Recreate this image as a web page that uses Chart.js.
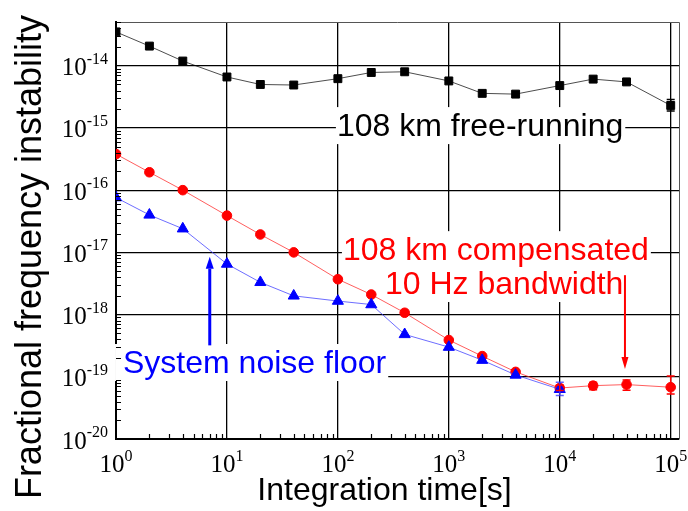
<!DOCTYPE html>
<html>
<head>
<meta charset="utf-8">
<script src="https://cdn.jsdelivr.net/npm/chart.js@4.4.1/dist/chart.umd.min.js"></script>
<style>
  html, body { margin: 0; padding: 0; background: #fff; }
  #wrap { width: 688px; height: 511px; }
</style>
</head>
<body>
<div id="wrap"><canvas id="stability" width="688" height="511"></canvas></div>
<script>
// integration time tau (s)
var tau = [1, 2, 4, 10, 20, 40, 100, 200, 400, 1000, 2000, 4000, 10000, 20000, 40000, 100000];

// 108 km free-running link
var freeRunning = [3.5e-14, 2.07e-14, 1.19e-14, 6.6e-15, 5.0e-15, 4.9e-15, 6.2e-15, 7.8e-15,
                   8.0e-15, 5.7e-15, 3.6e-15, 3.5e-15, 4.8e-15, 6.1e-15, 5.5e-15, 2.3e-15];
var freeRunningErrMinus = [0, 0, 0, 0, 0, 0, 0, 0, 0, 0, 0, 0, 0, 0, 0.4e-15, 0.43e-15];
var freeRunningErrPlus  = [0, 0, 0, 0, 0, 0, 0, 0, 0, 0, 0, 0, 0, 0, 0.5e-15, 0.58e-15];

// 108 km compensated, 10 Hz bandwidth
var compensated = [3.8e-16, 1.94e-16, 1.0e-16, 3.9e-17, 1.94e-17, 1.0e-17, 3.7e-18, 2.1e-18,
                   1.07e-18, 3.9e-19, 2.15e-19, 1.2e-19, 6.6e-20, 7.2e-20, 7.5e-20, 6.8e-20];
var compensatedErrMinus = [0, 0, 0, 0, 0, 0, 0, 0, 0, 0, 0, 0, 0.6e-20, 1.0e-20, 1.4e-20, 1.5e-20];
var compensatedErrPlus  = [0, 0, 0, 0, 0, 0, 0, 0, 0, 0, 0, 0, 0.8e-20, 1.0e-20, 1.4e-20, 3.5e-20];

// system noise floor (13 points, up to 1e4 s)
var noiseFloor = [7.6e-17, 4.0e-17, 2.4e-17, 6.5e-18, 3.3e-18, 2.0e-18, 1.65e-18, 1.45e-18,
                  4.8e-19, 3.0e-19, 1.85e-19, 1.07e-19, 6.3e-20];
var noiseFloorErrMinus = [0, 0, 0, 0, 0, 0, 0, 0, 0, 0, 0, 0, 1.3e-20];
var noiseFloorErrPlus  = [0, 0, 0, 0, 0, 0, 0, 0, 0, 0, 0, 0, 1.9e-20];

// decade exponents used for tick labels / grid
var xTickExps = [0, 1, 2, 3, 4, 5];
var yTickExps = [-20, -19, -18, -17, -16, -15, -14];

var xTitle = 'Integration time[s]';
var yTitle = 'Fractional frequency instability';

// text labels and arrows placed in data coordinates
var notes = [
  { text: '108 km free-running', x: 98, y: 7.4e-16, color: '#000000' },
  { text: '108 km compensated', x: 111, y: 7.5e-18, color: '#ff0000' },
  { text: '10 Hz bandwidth', x: 266, y: 2.14e-18, color: '#ff0000' },
  { text: 'System noise floor', x: 1.157, y: 1.15e-19, color: '#0000ff', padLeft: 8 }
];
var arrows = [
  { x: 7, from: 3.2e-19, to: 8.5e-18, color: '#0000ff', width: 3, head: 8 },
  { x: 3.87e4, from: 4.3e-18, to: 1.33e-19, color: '#ff0000', width: 2, head: 7 }
];

var SANS = '"Liberation Sans", Arial, sans-serif';
var SERIF = '"Liberation Serif", "Times New Roman", serif';

function pts(vals) {
  return vals.map(function(v, i) { return { x: tau[i], y: v }; });
}

// white-backed labels + arrows, under the data but over the grid
var notesPlugin = {
  id: 'notes',
  beforeDatasetsDraw: function(chart) {
    var ctx = chart.ctx, xs = chart.scales.x, ys = chart.scales.y;
    ctx.save();
    ctx.font = '32px ' + SANS;
    ctx.textBaseline = 'alphabetic';
    notes.forEach(function(n) {
      var px = xs.getPixelForValue(n.x), py = ys.getPixelForValue(n.y);
      var w = ctx.measureText(n.text).width;
      var pl = n.padLeft || 1;
      ctx.fillStyle = '#fff';
      ctx.fillRect(px - pl, py - 29, w + pl + 2, 37);
    });
    notes.forEach(function(n) {
      var px = xs.getPixelForValue(n.x), py = ys.getPixelForValue(n.y);
      ctx.fillStyle = n.color;
      ctx.fillText(n.text, px, py);
    });
    arrows.forEach(function(a) {
      var px = xs.getPixelForValue(a.x);
      var y0 = ys.getPixelForValue(a.from), y1 = ys.getPixelForValue(a.to);
      var dir = y1 > y0 ? 1 : -1, hl = 12;
      ctx.strokeStyle = a.color;
      ctx.fillStyle = a.color;
      ctx.lineWidth = a.width;
      ctx.beginPath();
      ctx.moveTo(px, y0);
      ctx.lineTo(px, y1 - dir * hl);
      ctx.stroke();
      ctx.beginPath();
      ctx.moveTo(px, y1);
      ctx.lineTo(px - a.head / 2, y1 - dir * hl);
      ctx.lineTo(px + a.head / 2, y1 - dir * hl);
      ctx.closePath();
      ctx.fill();
    });
    ctx.restore();
  }
};

var errSets = [
  { minus: noiseFloorErrMinus, plus: noiseFloorErrPlus, vals: noiseFloor, color: 'rgba(60,60,255,0.8)' },
  { minus: compensatedErrMinus, plus: compensatedErrPlus, vals: compensated, color: '#ff0000' },
  { minus: freeRunningErrMinus, plus: freeRunningErrPlus, vals: freeRunning, color: '#000000' }
];

var errorBars = {
  id: 'errorBars',
  afterDatasetsDraw: function(chart) {
    var ctx = chart.ctx, xs = chart.scales.x, ys = chart.scales.y;
    ctx.save();
    ctx.lineWidth = 1.5;
    errSets.forEach(function(s) {
      ctx.strokeStyle = s.color;
      s.vals.forEach(function(v, i) {
        if (!s.minus[i] && !s.plus[i]) return;
        var px = xs.getPixelForValue(tau[i]);
        var top = ys.getPixelForValue(v + s.plus[i]);
        var bot = ys.getPixelForValue(v - s.minus[i]);
        ctx.beginPath();
        ctx.moveTo(px, top); ctx.lineTo(px, bot);
        ctx.moveTo(px - 4, top); ctx.lineTo(px + 4, top);
        ctx.moveTo(px - 4, bot); ctx.lineTo(px + 4, bot);
        ctx.stroke();
      });
    });
    ctx.restore();
  }
};

function drawPower(ctx, exp, x, base, align) {
  ctx.font = '25px ' + SERIF;
  var w10 = ctx.measureText('10').width;
  ctx.font = '16px ' + SERIF;
  var we = ctx.measureText(String(exp)).width;
  var start = align === 'right' ? x - w10 - we : x - (w10 + we) / 2;
  ctx.font = '25px ' + SERIF;
  ctx.fillText('10', start, base);
  ctx.font = '16px ' + SERIF;
  ctx.fillText(String(exp), start + w10, base - 11.5);
}

// axis frame, inside minor ticks, tick labels and titles
var axesDecor = {
  id: 'axesDecor',
  afterDraw: function(chart) {
    var ctx = chart.ctx, xs = chart.scales.x, ys = chart.scales.y, a = chart.chartArea;
    ctx.save();
    ctx.strokeStyle = '#555';
    ctx.lineWidth = 1;
    ctx.beginPath();
    ctx.moveTo(a.left, a.top + 0.5); ctx.lineTo(a.right + 0.5, a.top + 0.5);
    ctx.lineTo(a.right + 0.5, a.bottom);
    ctx.stroke();

    ctx.strokeStyle = '#000';
    ctx.lineWidth = 1.2;
    ctx.beginPath();
    yTickExps.forEach(function(e) {
      for (var m = 2; m <= 9; m++) {
        var v = m * Math.pow(10, e);
        if (v > ys.max) break;
        var py = Math.round(ys.getPixelForValue(v)) + 0.5;
        ctx.moveTo(a.left, py); ctx.lineTo(a.left + 5, py);
      }
    });
    xTickExps.forEach(function(e) {
      for (var m = 2; m <= 9; m++) {
        var v = m * Math.pow(10, e);
        if (v > xs.max) break;
        var px = Math.round(xs.getPixelForValue(v)) + 0.5;
        ctx.moveTo(px, a.bottom); ctx.lineTo(px, a.bottom - 5);
      }
    });
    ctx.stroke();

    ctx.fillStyle = '#000';
    ctx.textAlign = 'left';
    ctx.textBaseline = 'alphabetic';
    yTickExps.forEach(function(e) {
      var py = ys.getPixelForValue(Math.pow(10, e));
      drawPower(ctx, e, 108, py + 9.5, 'right');
    });
    xTickExps.forEach(function(e) {
      var px = xs.getPixelForValue(Math.pow(10, e));
      drawPower(ctx, e, px, 472, 'center');
    });

    ctx.textAlign = 'center';
    ctx.font = '32px ' + SANS;
    ctx.fillText(xTitle, (a.left + a.right) / 2 - 13, 500);
    ctx.translate(41, 257);
    ctx.rotate(-Math.PI / 2);
    ctx.font = '36px ' + SANS;
    ctx.fillText(yTitle, 0, 0);
    ctx.restore();
  }
};

function decadeTicks(exps) {
  return function(scale) {
    scale.ticks = exps.map(function(e) { return { value: Math.pow(10, e) }; });
  };
}

Chart.defaults.font.family = SANS;

var chart = new Chart('stability', {
  type: 'line',
  data: {
    datasets: [
      {
        label: 'System noise floor',
        data: pts(noiseFloor),
        borderColor: 'rgba(60,60,255,0.75)',
        borderWidth: 1,
        pointStyle: 'triangle',
        pointRadius: 6.4,
        pointBackgroundColor: '#0000ff',
        pointBorderColor: '#0000ff',
        pointBorderWidth: 1,
        clip: 0,
        order: 0
      },
      {
        label: '108 km compensated',
        data: pts(compensated),
        borderColor: 'rgba(255,40,40,0.75)',
        borderWidth: 1,
        pointStyle: 'circle',
        pointRadius: 4.8,
        pointBackgroundColor: '#ff0000',
        pointBorderColor: '#ff0000',
        pointBorderWidth: 1,
        clip: 0,
        order: 1
      },
      {
        label: '108 km free-running',
        data: pts(freeRunning),
        borderColor: 'rgba(0,0,0,0.7)',
        borderWidth: 1,
        pointStyle: 'rect',
        pointRadius: 5.6,
        pointBackgroundColor: '#000000',
        pointBorderColor: '#000000',
        pointBorderWidth: 1,
        clip: 0,
        order: 2
      }
    ]
  },
  options: {
    responsive: false,
    animation: false,
    events: [],
    layout: { padding: { top: 22, right: 9, left: 0, bottom: 0 } },
    plugins: {
      legend: { display: false },
      tooltip: { enabled: false }
    },
    scales: {
      x: {
        type: 'logarithmic',
        min: 1,
        max: 1.188e5,
        afterBuildTicks: decadeTicks(xTickExps),
        afterFit: function(s) { s.height = 72; },
        ticks: { display: false },
        grid: { color: '#000', lineWidth: 1.3, drawTicks: false },
        border: { color: '#000', width: 2 }
      },
      y: {
        type: 'logarithmic',
        min: 1e-20,
        max: 5.05e-14,
        afterBuildTicks: decadeTicks(yTickExps),
        afterFit: function(s) { s.width = 116; },
        ticks: { display: false },
        grid: { color: '#000', lineWidth: 1.3, drawTicks: false },
        border: { color: '#000', width: 2 }
      }
    }
  },
  plugins: [notesPlugin, errorBars, axesDecor]
});
</script>
</body>
</html>
